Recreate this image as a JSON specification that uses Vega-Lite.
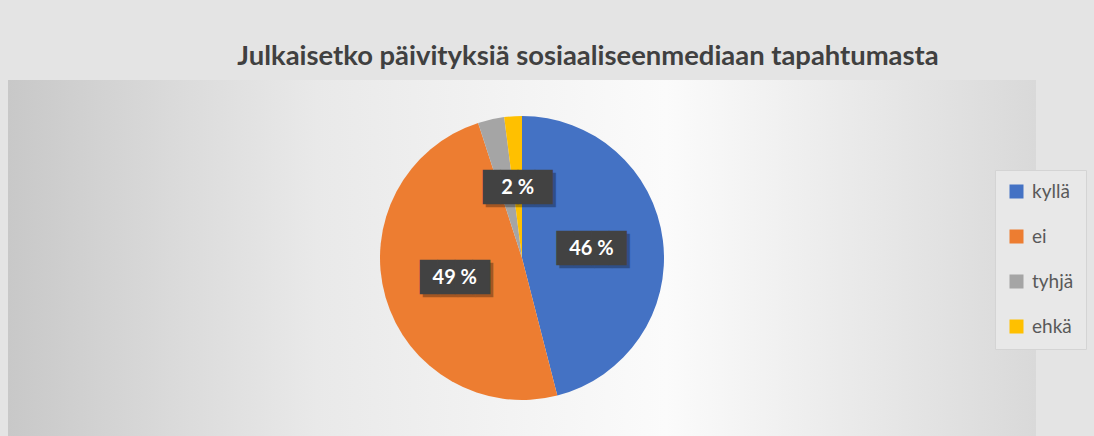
{
  "$schema": "https://vega.github.io/schema/vega-lite/v6.json",
  "width": 1028,
  "height": 356,
  "autosize": {"type": "none"},
  "padding": {"left": 8, "top": 80, "right": 58, "bottom": 0},
  "background": "#e4e4e4",
  "title": {
    "text": "Julkaisetko päivityksiä sosiaaliseenmediaan tapahtumasta",
    "anchor": "middle",
    "dx": 66,
    "fontSize": 27.4,
    "font": "Lato",
    "fontWeight": "bold",
    "color": "#404040",
    "offset": -12,
    "baseline": "alphabetic"
  },
  "view": {
    "stroke": null,
    "fill": {
      "gradient": "linear",
      "x1": 0, "y1": 0, "x2": 1, "y2": 0,
      "stops": [
        {"offset": 0, "color": "#c8c8c8"},
        {"offset": 0.15, "color": "#d9d9d9"},
        {"offset": 0.3, "color": "#e9e9e9"},
        {"offset": 0.64, "color": "#fbfbfb"},
        {"offset": 1, "color": "#d9d9d9"}
      ]
    }
  },
  "data": {
    "values": [
      {"cat": "kyllä", "value": 46, "ord": 1, "label": "46 %"},
      {"cat": "ei", "value": 49, "ord": 2, "label": "49 %"},
      {"cat": "tyhjä", "value": 3, "ord": 3, "label": "3 %"},
      {"cat": "ehkä", "value": 2, "ord": 4, "label": "2 %"}
    ]
  },
  "encoding": {
    "theta": {"field": "value", "type": "quantitative", "stack": true},
    "order": {"field": "ord", "type": "quantitative"}
  },
  "layer": [
    {
      "mark": {"type": "arc", "outerRadius": 142},
      "encoding": {
        "color": {
          "field": "cat",
          "type": "nominal",
          "scale": {
            "domain": ["kyllä", "ei", "tyhjä", "ehkä"],
            "range": ["#4472C4", "#ED7D31", "#A5A5A5", "#FFC000"]
          },
          "legend": {
            "title": null,
            "orient": "none",
            "legendX": 987,
            "legendY": 90,
            "fillColor": "#e8e8e8",
            "strokeColor": "#d4d4d4",
            "padding": 12,
            "symbolType": "square",
            "symbolSize": 196,
            "symbolStrokeWidth": 0,
            "labelFont": "Lato",
            "labelFontSize": 19,
            "labelColor": "#595959",
            "labelOffset": 6,
            "rowPadding": 25
          }
        }
      }
    },
    {
      "mark": {"type": "text", "radius": 70, "font": "DejaVu Sans Mono", "fontSize": 29, "dx": 3, "dy": 3, "color": "#000000", "opacity": 0.3, "baseline": "middle", "align": "center"},
      "encoding": {
        "text": {"condition": {"test": "datum.cat === 'tyhjä'", "value": ""}, "value": "████"}
      }
    },
    {
      "mark": {"type": "text", "radius": 70, "font": "DejaVu Sans Mono", "fontSize": 29, "color": "#424242", "baseline": "middle", "align": "center"},
      "encoding": {
        "text": {"condition": {"test": "datum.cat === 'tyhjä'", "value": ""}, "value": "████"}
      }
    },
    {
      "mark": {"type": "text", "radius": 70, "font": "Lato", "fontSize": 20, "fontWeight": "bold", "color": "#ffffff", "baseline": "middle", "align": "center"},
      "encoding": {
        "text": {"condition": {"test": "datum.cat === 'tyhjä'", "value": ""}, "field": "label", "type": "nominal"}
      }
    }
  ]
}
